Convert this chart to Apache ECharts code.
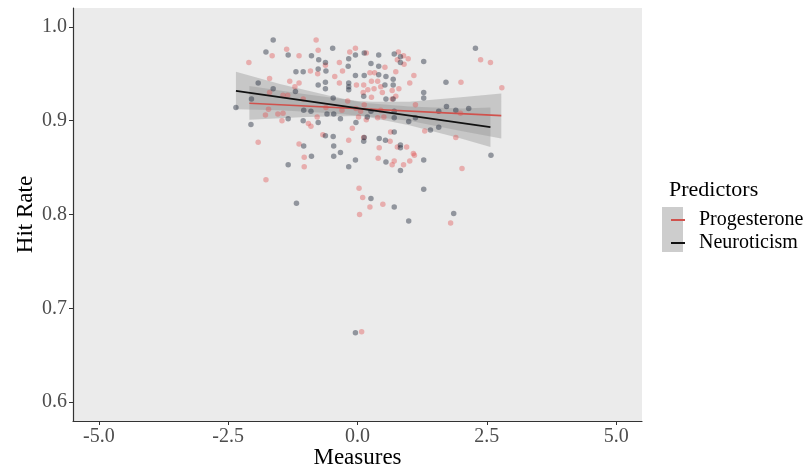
<!DOCTYPE html>
<html>
<head>
<meta charset="utf-8">
<script src="https://cdn.jsdelivr.net/npm/echarts@6/dist/echarts.min.js"></script>
<style>
html, body { margin: 0; background: #fff; }
#chart { width: 809px; height: 469px; }
</style>
</head>
<body>
<div id="chart"></div>
<script>
// tick labels
var xTicks = [-5, -2.5, 0, 2.5, 5];
var yTicks = [0.6, 0.7, 0.8, 0.9, 1.0];

// raw points, [measure, hit rate]
var progPoints = [
  [-0.80,0.986],[-1.37,0.976],[-1.65,0.969],[-1.13,0.969],[-0.76,0.975],[-0.62,0.959],
  [-2.10,0.962],[-0.35,0.962],[-0.15,0.973],[-0.91,0.953],[-0.77,0.950],[-0.44,0.947],
  [-0.29,0.953],[-0.35,0.940],[-0.02,0.938],[-1.70,0.945],[-1.31,0.942],[-1.13,0.940],
  [-1.21,0.936],[-1.70,0.930],[-1.44,0.927],[-1.35,0.927],[-1.05,0.923],[-0.19,0.921],
  [-1.72,0.912],[-1.54,0.907],[-1.44,0.908],[-0.61,0.914],[-0.78,0.904],[-0.30,0.911],
  [0.02,0.904],[-1.78,0.906],[-1.46,0.900],[-0.95,0.897],[-0.90,0.894],[-0.10,0.892],
  [-0.67,0.885],[-1.92,0.877],[-0.17,0.879],[-1.13,0.875],[-1.03,0.861],[-1.03,0.851],
  [-1.77,0.837],[0.03,0.828],[0.04,0.800],[-0.04,0.977],[0.17,0.972],[0.79,0.973],
  [0.89,0.969],[0.98,0.966],[0.77,0.965],[0.90,0.960],[0.53,0.957],[2.38,0.965],
  [2.57,0.962],[0.33,0.951],[0.24,0.951],[0.74,0.952],[0.27,0.942],[0.39,0.942],
  [1.09,0.948],[1.01,0.940],[0.80,0.934],[0.12,0.938],[0.20,0.933],[0.32,0.934],
  [0.45,0.936],[0.11,0.930],[0.48,0.930],[0.67,0.932],[2.00,0.941],[2.79,0.935],
  [0.27,0.925],[0.74,0.926],[0.67,0.923],[1.12,0.917],[1.99,0.908],[-0.03,0.913],
  [0.45,0.911],[0.51,0.904],[0.39,0.903],[0.17,0.901],[0.64,0.888],[1.30,0.889],
  [1.90,0.882],[0.12,0.882],[0.63,0.878],[0.77,0.872],[0.95,0.872],[0.42,0.871],
  [1.08,0.865],[1.10,0.863],[0.40,0.860],[0.71,0.857],[0.67,0.853],[0.89,0.853],
  [1.01,0.857],[2.02,0.849],[0.10,0.818],[0.24,0.808],[0.49,0.811],[1.80,0.791],
  [0.08,0.675],[0.13,0.917],[0.06,0.910]
];
var neuroPoints = [
  [-1.63,0.986],[-1.77,0.973],[-1.34,0.970],[-0.89,0.969],[-0.75,0.965],[-0.62,0.962],
  [-0.48,0.977],[-0.17,0.966],[-0.04,0.970],[-0.18,0.958],[-1.19,0.952],[-1.05,0.952],
  [-0.76,0.955],[-0.61,0.953],[-0.04,0.948],[-0.62,0.941],[-0.62,0.934],[-0.76,0.938],
  [-0.17,0.940],[-0.17,0.936],[-0.17,0.933],[-1.92,0.940],[-1.63,0.934],[-1.20,0.931],
  [-2.05,0.923],[-0.47,0.924],[-2.35,0.914],[-1.04,0.911],[-0.90,0.910],[-0.59,0.907],
  [-0.46,0.907],[-0.33,0.902],[-2.06,0.896],[-1.34,0.902],[-1.05,0.900],[-0.76,0.898],
  [-0.62,0.884],[-0.47,0.883],[-1.04,0.873],[-0.46,0.873],[-0.89,0.862],[-0.46,0.862],
  [-0.33,0.866],[-1.34,0.853],[-0.17,0.851],[-0.04,0.858],[-1.18,0.812],[0.13,0.972],
  [0.41,0.970],[0.71,0.971],[0.83,0.968],[0.83,0.962],[0.26,0.961],[0.41,0.958],
  [1.28,0.963],[2.28,0.977],[0.41,0.949],[0.13,0.948],[0.55,0.947],[0.69,0.944],
  [0.69,0.938],[0.53,0.938],[1.28,0.930],[1.28,0.924],[1.71,0.941],[0.12,0.926],
  [0.55,0.923],[0.69,0.923],[1.72,0.915],[2.15,0.913],[1.57,0.910],[0.26,0.910],
  [0.71,0.910],[0.19,0.904],[0.71,0.903],[0.99,0.899],[1.12,0.903],[-0.03,0.898],
  [0.71,0.888],[1.41,0.890],[1.57,0.893],[0.13,0.882],[0.42,0.881],[0.12,0.878],
  [0.54,0.879],[0.83,0.874],[0.83,0.871],[0.55,0.856],[1.28,0.858],[0.83,0.847],
  [2.58,0.863],[1.28,0.827],[0.26,0.817],[0.71,0.808],[1.86,0.801],[0.99,0.793],
  [-0.04,0.674],[1.90,0.911]
];

// fitted lines (end points)
var progFit = [[-2.09, 0.9185], [2.78, 0.9053]];
var neuroFit = [[-2.35, 0.9316], [2.57, 0.8932]];

// confidence bands
var progBandX  = [-2.09, -1.0, 0.0, 0.3, 1.0, 2.0, 2.78];
var progBandLo = [0.901, 0.904, 0.905, 0.904, 0.900, 0.889, 0.881];
var progBandHi = [0.937, 0.928, 0.921, 0.920, 0.920, 0.925, 0.929];
var neuroBandX  = [-2.35, -1.5, -0.5, 0.1, 1.0, 2.0, 2.57];
var neuroBandLo = [0.912, 0.911, 0.908, 0.905, 0.895, 0.881, 0.872];
var neuroBandHi = [0.952, 0.939, 0.926, 0.919, 0.915, 0.913, 0.914];

var FONT = 'Liberation Serif';

function bandSeries(name, xs, lo, hi) {
  var rows = xs.map(function (x, i) { return [x, lo[i], hi[i]]; });
  return {
    name: name,
    type: 'custom',
    data: rows,
    encode: { x: 0, y: [1, 2] },
    silent: true,
    renderItem: function (params, api) {
      if (params.dataIndex !== 0) return null;
      var top = xs.map(function (x, i) { return api.coord([x, hi[i]]); });
      var bottom = xs.map(function (x, i) { return api.coord([x, lo[i]]); }).reverse();
      return {
        type: 'polygon',
        shape: { points: top.concat(bottom) },
        style: { fill: 'rgba(150,150,150,0.42)' }
      };
    }
  };
}

var chart = echarts.init(document.getElementById('chart'));

chart.setOption({
  animation: false,
  title: {
    text: 'Predictors',
    left: 664,
    top: 174,
    textStyle: { fontFamily: FONT, fontSize: 22, fontWeight: 'normal', color: '#000' }
  },
  legend: {
    orient: 'vertical',
    left: 666,
    top: 204,
    itemWidth: 14,
    itemHeight: 2,
    itemGap: 1,
    icon: 'rect',
    selectedMode: false,
    data: ['Progesterone', 'Neuroticism'],
    textStyle: { fontFamily: FONT, fontSize: 20, color: '#000', lineHeight: 22, padding: [0, 0, 0, 9] }
  },
  graphic: [{
    type: 'rect',
    left: 662,
    top: 207,
    z: 1,
    shape: { width: 21, height: 45 },
    style: { fill: '#CDCDCD' }
  }],
  grid: {
    left: 73, right: 167, top: 8, bottom: 48,
    outerBoundsMode: 'none',
    show: true, backgroundColor: '#EBEBEB', borderWidth: 0
  },
  xAxis: {
    type: 'value',
    min: -5.5, max: 5.5,
    name: 'Measures',
    nameLocation: 'middle',
    nameGap: 25,
    nameMoveOverlap: false,
    nameTextStyle: { fontFamily: FONT, fontSize: 23, color: '#000' },
    axisLine: { show: true, onZero: false, lineStyle: { color: '#333', width: 1.2 } },
    axisTick: { show: true, customValues: xTicks, length: 4, lineStyle: { color: '#333' } },
    axisLabel: {
      customValues: xTicks, margin: 6,
      fontFamily: FONT, fontSize: 20, color: '#4D4D4D',
      formatter: function (v) { return v.toFixed(1); }
    },
    splitLine: { show: false }
  },
  yAxis: {
    type: 'value',
    min: 0.58, max: 1.02,
    name: 'Hit Rate',
    nameLocation: 'middle',
    nameGap: 36,
    nameMoveOverlap: false,
    nameTextStyle: { fontFamily: FONT, fontSize: 23, color: '#000' },
    axisLine: { show: true, onZero: false, lineStyle: { color: '#333', width: 1.2 } },
    axisTick: { show: true, customValues: yTicks, length: 4, lineStyle: { color: '#333' } },
    axisLabel: {
      customValues: yTicks, margin: 6,
      fontFamily: FONT, fontSize: 20, color: '#4D4D4D',
      formatter: function (v) { return v.toFixed(1); }
    },
    splitLine: { show: false }
  },
  series: [
    {
      name: 'prog points', type: 'scatter', data: progPoints, symbolSize: 5.5,
      itemStyle: { color: 'rgba(225,80,80,0.5)' }, silent: true
    },
    {
      name: 'neuro points', type: 'scatter', data: neuroPoints, symbolSize: 5.5,
      itemStyle: { color: 'rgba(30,38,58,0.55)' }, silent: true
    },
    bandSeries('prog band', progBandX, progBandLo, progBandHi),
    bandSeries('neuro band', neuroBandX, neuroBandLo, neuroBandHi),
    {
      name: 'Progesterone', type: 'line', data: progFit, symbol: 'none',
      itemStyle: { color: '#D0524D' }, lineStyle: { color: '#D0524D', width: 1.7 }
    },
    {
      name: 'Neuroticism', type: 'line', data: neuroFit, symbol: 'none',
      itemStyle: { color: '#111' }, lineStyle: { color: '#111', width: 1.8 }
    }
  ]
});
</script>
</body>
</html>
